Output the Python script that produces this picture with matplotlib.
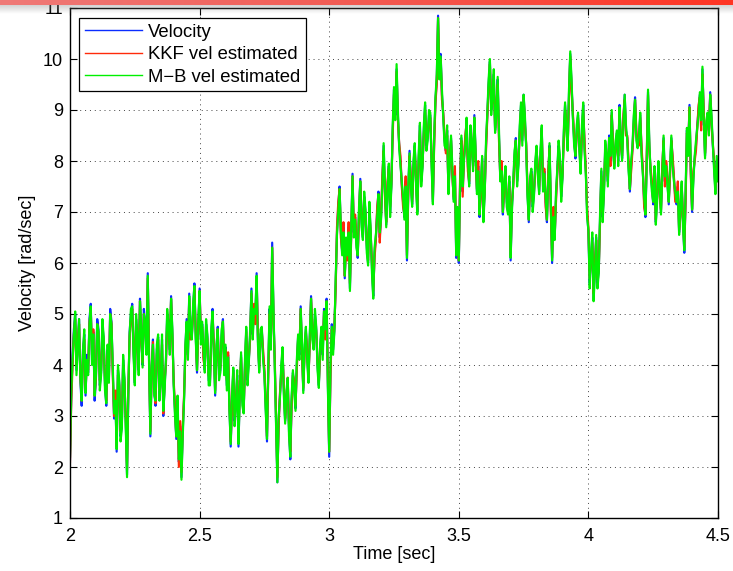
import numpy as np
import matplotlib
matplotlib.use("Agg")
import matplotlib.pyplot as plt
from matplotlib.colors import LinearSegmentedColormap

plt.rcParams['font.family'] = ['Liberation Sans', 'DejaVu Sans']

# samples every 5 ms, 2.000 .. 4.500 s
# "*_on" lists hold the values on the 10 ms marks, "*_mid" the ones in between
t_start = 2.0
dt = 0.005

velocity_on = [
    2.15, 4.2, 5.0, 4.4, 3.7, 4.3, 3.4, 3.85, 5.2, 4.65,
    3.7, 4.7, 3.85, 4.5, 3.2, 3.7, 4.85, 2.95, 2.3, 3.65,
    2.8, 3.7, 1.85, 4.65, 5.2, 3.65, 4.5, 5.3, 4.0, 4.8,
    5.8, 2.6, 4.5, 3.2, 4.55, 3.7, 3.0, 4.05, 4.85, 5.35,
    3.65, 2.55, 2.1, 1.8, 3.35, 4.9, 5.4, 4.55, 5.6, 3.85,
    5.5, 4.8, 3.9, 4.55, 3.65, 5.1, 3.4, 4.75, 3.9, 4.9,
    4.35, 4.2, 2.4, 3.9, 3.25, 2.4, 4.2, 3.1, 4.7, 4.1,
    5.5, 5.15, 5.8, 3.9, 4.7, 3.85, 2.5, 5.1, 6.4, 4.05,
    1.7, 3.4, 4.3, 2.9, 3.7, 2.15, 3.85, 3.15, 4.55, 5.15,
    3.5, 4.7, 3.7, 5.35, 4.35, 4.7, 3.6, 4.7, 5.1, 5.3,
    2.2, 4.8, 4.7, 6.6, 7.5, 6.2, 5.7, 6.1, 5.5, 7.75,
    6.9, 6.1, 7.65, 6.5, 7.0, 6.0, 6.6, 5.35, 6.5, 7.4,
    6.9, 8.3, 6.75, 7.9, 7.55, 9.4, 9.8, 8.3, 7.55, 6.9,
    6.05, 8.2, 7.15, 8.3, 7.0, 8.7, 7.9, 9.1, 8.45, 8.9,
    7.2, 9.2, 10.85, 10.1, 8.9, 8.2, 7.4, 8.45, 7.25, 6.1,
    6.0, 8.45, 8.05, 8.8, 7.55, 8.3, 8.9, 7.4, 6.9, 8.05,
    7.4, 8.9, 9.95, 9.2, 8.6, 9.6, 7.65, 6.95, 7.85, 7.0,
    6.05, 7.55, 8.45, 7.95, 9.1, 9.3, 8.3, 6.8, 7.8, 7.35,
    8.25, 7.4, 8.65, 7.8, 6.8, 8.3, 6.0, 6.5, 7.8, 8.05,
    7.7, 9.1, 8.25, 10.1, 8.9, 8.05, 8.9, 7.8, 9.1, 7.8,
    6.6, 6.1, 5.3, 6.5, 5.85, 7.8, 7.4, 8.1, 8.5, 8.95,
    7.9, 8.55, 9.1, 8.05, 9.3, 8.45, 7.4, 8.25, 9.25, 8.3,
    8.9, 7.8, 6.9, 9.35, 7.8, 7.15, 6.8, 7.95, 7.0, 8.45,
    7.95, 7.15, 8.45, 7.65, 7.15, 6.6, 7.55, 6.2, 8.6, 9.1,
    7.0, 8.05, 8.7, 9.3, 9.8, 8.1, 8.9, 9.35, 8.3, 7.4,
    7.65,
]
velocity_mid = [
    3.4, 4.7, 3.9, 4.9, 3.2, 4.6, 4.2, 4.9, 4.1, 3.3,
    4.9, 3.6, 4.8, 3.6, 4.3, 5.1, 3.9, 3.4, 3.9, 2.6,
    4.1, 2.9, 3.4, 5.0, 4.3, 4.9, 3.9, 4.6, 5.1, 4.3,
    4.1, 3.9, 3.5, 4.3, 3.4, 4.5, 3.6, 5.0, 4.3, 4.6,
    3.1, 3.3, 2.8, 2.7, 4.3, 4.2, 4.6, 5.1, 4.6, 4.8,
    4.5, 4.2, 4.8, 3.7, 4.6, 4.3, 4.3, 3.8, 4.6, 3.9,
    3.6, 3.2, 3.3, 2.9, 3.8, 3.5, 3.3, 4.0, 3.7, 4.6,
    4.6, 4.9, 4.5, 4.6, 4.2, 3.2, 3.9, 4.4, 5.0, 2.9,
    2.9, 3.9, 3.5, 3.4, 2.7, 3.3, 3.6, 4.0, 4.2, 4.3,
    4.3, 4.2, 4.5, 4.6, 5.0, 4.0, 4.3, 4.2, 4.6, 3.6,
    3.9, 4.3, 5.6, 7.1, 6.6, 6.7, 6.4, 6.7, 6.6, 6.6,
    6.4, 7.0, 6.8, 7.3, 6.3, 7.1, 5.9, 6.2, 7.0, 6.5,
    7.6, 7.4, 7.5, 7.0, 8.6, 8.9, 8.9, 8.0, 7.2, 7.6,
    7.4, 7.6, 7.9, 7.6, 8.0, 7.6, 8.6, 8.3, 8.9, 8.0,
    8.4, 9.6, 9.7, 9.3, 8.4, 8.6, 8.0, 7.8, 7.8, 7.0,
    7.6, 7.4, 8.4, 7.9, 8.6, 7.9, 8.1, 7.9, 7.4, 6.9,
    8.3, 9.5, 9.0, 9.7, 9.0, 8.5, 7.9, 7.5, 7.2, 7.6,
    7.1, 8.1, 7.6, 8.6, 8.4, 8.8, 7.4, 7.6, 7.1, 7.9,
    7.8, 8.1, 7.5, 7.2, 7.7, 7.1, 7.0, 7.3, 8.3, 7.3,
    8.5, 8.7, 9.3, 9.5, 8.4, 8.6, 8.3, 8.6, 8.3, 7.0,
    5.6, 6.5, 5.9, 5.6, 6.9, 6.9, 8.3, 7.6, 8.0, 8.3,
    8.3, 8.0, 8.4, 8.8, 8.6, 7.9, 7.9, 8.8, 8.5, 8.4,
    8.2, 7.2, 8.0, 8.3, 7.5, 7.8, 7.3, 7.4, 7.8, 7.6,
    7.6, 7.8, 8.0, 7.3, 7.5, 7.0, 6.8, 7.3, 8.2, 7.8,
    7.7, 8.3, 9.0, 8.7, 8.9, 8.7, 8.6, 8.8, 7.9, 8.0,
]

kkf_on = [
    2.1, 4.0, 4.9, 4.45, 3.8, 4.2, 3.5, 3.9, 5.1, 4.7,
    3.75, 4.6, 3.9, 4.45, 3.3, 3.75, 4.8, 3.0, 2.4, 3.6,
    2.85, 3.65, 1.95, 4.55, 5.1, 3.7, 4.45, 5.25, 4.05, 4.75,
    5.7, 2.7, 4.45, 3.25, 4.5, 3.75, 3.05, 4.0, 4.8, 5.3,
    3.7, 2.6, 2.0, 1.9, 3.4, 4.8, 5.3, 4.6, 5.5, 3.9,
    5.45, 4.75, 3.95, 4.5, 3.7, 5.0, 3.5, 4.7, 3.95, 4.85,
    4.3, 4.25, 2.5, 3.85, 3.3, 2.5, 4.15, 3.15, 4.65, 4.15,
    5.4, 5.2, 5.7, 3.95, 4.65, 3.9, 2.6, 5.0, 6.3, 4.1,
    1.8, 3.45, 4.25, 2.95, 3.75, 2.3, 3.8, 3.2, 4.5, 5.1,
    3.55, 4.65, 3.75, 5.3, 4.4, 4.65, 3.65, 4.65, 5.05, 5.25,
    2.3, 4.7, 4.75, 6.7, 7.45, 6.25, 5.75, 6.05, 5.6, 7.7,
    6.95, 6.15, 7.6, 6.55, 6.95, 6.05, 6.55, 5.45, 6.45, 7.35,
    6.95, 8.2, 6.8, 7.85, 7.6, 9.3, 9.75, 8.35, 7.5, 6.95,
    6.15, 8.1, 7.2, 8.25, 7.05, 8.6, 7.95, 9.0, 8.5, 8.85,
    7.25, 9.15, 10.8, 10.0, 8.95, 8.15, 7.45, 8.4, 7.3, 6.2,
    6.05, 8.4, 8.1, 8.75, 7.6, 8.25, 8.85, 7.45, 6.95, 8.0,
    7.45, 8.85, 9.9, 9.15, 8.65, 9.5, 7.7, 7.0, 7.8, 7.05,
    6.15, 7.5, 8.4, 8.0, 9.0, 9.25, 8.35, 6.85, 7.75, 7.4,
    8.2, 7.45, 8.6, 7.85, 6.85, 8.25, 6.1, 6.55, 7.75, 8.0,
    7.75, 9.0, 8.3, 10.05, 8.95, 8.1, 8.85, 7.85, 9.0, 7.85,
    6.7, 6.05, 5.4, 6.45, 5.9, 7.7, 7.45, 8.05, 8.45, 8.9,
    7.95, 8.5, 9.05, 8.1, 9.2, 8.5, 7.45, 8.2, 9.2, 8.35,
    8.85, 7.85, 6.95, 9.3, 7.85, 7.2, 6.85, 7.9, 7.05, 8.4,
    8.0, 7.2, 8.4, 7.7, 7.2, 6.65, 7.5, 6.3, 8.55, 9.05,
    7.05, 8.0, 8.65, 9.25, 9.7, 8.15, 8.85, 9.3, 8.35, 7.45,
    7.7,
]
kkf_mid = [
    3.3, 4.6, 4.0, 4.8, 3.3, 4.5, 4.1, 4.8, 4.2, 3.4,
    4.8, 3.7, 4.7, 3.7, 4.2, 5.0, 3.8, 3.5, 3.8, 2.7,
    4.0, 3.0, 3.5, 4.9, 4.4, 4.8, 4.0, 4.5, 5.0, 4.4,
    4.2, 3.8, 3.6, 4.2, 3.5, 4.4, 3.7, 4.9, 4.4, 4.5,
    3.2, 3.2, 2.9, 2.8, 4.2, 4.3, 4.5, 5.0, 4.7, 4.7,
    4.6, 4.1, 4.7, 3.8, 4.5, 4.4, 4.2, 3.9, 4.5, 4.0,
    3.7, 3.3, 3.2, 3.0, 3.7, 3.6, 3.4, 3.9, 3.8, 4.5,
    4.7, 4.8, 4.6, 4.5, 4.3, 3.3, 3.8, 4.5, 4.9, 3.0,
    2.8, 3.8, 3.6, 3.3, 2.8, 3.2, 3.7, 3.9, 4.3, 4.2,
    4.2, 4.3, 4.4, 4.7, 4.9, 4.1, 4.2, 4.3, 4.5, 3.7,
    3.8, 4.4, 5.5, 7.2, 6.5, 6.8, 6.3, 6.8, 6.5, 6.7,
    6.5, 6.9, 6.9, 7.2, 6.4, 7.0, 6.0, 6.1, 7.1, 6.4,
    7.7, 7.3, 7.6, 7.1, 8.5, 9.0, 8.8, 8.1, 7.1, 7.7,
    7.3, 7.7, 7.8, 7.7, 7.9, 7.7, 8.5, 8.4, 8.8, 8.1,
    8.3, 9.5, 9.8, 9.2, 8.5, 8.5, 8.1, 7.7, 7.9, 6.9,
    7.7, 7.3, 8.5, 7.8, 8.5, 8.0, 8.0, 8.0, 7.3, 7.0,
    8.2, 9.4, 9.1, 9.6, 9.1, 8.4, 8.0, 7.4, 7.3, 7.5,
    7.2, 8.0, 7.7, 8.5, 8.5, 8.7, 7.5, 7.5, 7.2, 7.8,
    7.9, 8.0, 7.6, 7.1, 7.8, 7.0, 7.1, 7.2, 8.2, 7.4,
    8.4, 8.8, 9.2, 9.4, 8.5, 8.5, 8.4, 8.5, 8.4, 7.1,
    5.7, 6.4, 6.0, 5.7, 6.8, 7.0, 8.2, 7.7, 7.9, 8.4,
    8.2, 8.1, 8.3, 8.9, 8.5, 8.0, 7.8, 8.7, 8.6, 8.3,
    8.3, 7.1, 8.1, 8.2, 7.6, 7.7, 7.4, 7.3, 7.9, 7.5,
    7.7, 7.7, 8.1, 7.2, 7.6, 6.9, 6.9, 7.2, 8.3, 7.7,
    7.8, 8.2, 9.1, 8.6, 9.0, 8.6, 8.7, 8.7, 8.0, 7.9,
]

mb_on = [
    2.2, 4.1, 5.05, 4.35, 3.75, 4.25, 3.45, 3.8, 5.15, 4.6,
    3.8, 4.65, 3.8, 4.55, 3.25, 3.65, 4.8, 3.05, 2.35, 3.7,
    2.75, 3.75, 1.8, 4.6, 5.15, 3.6, 4.55, 5.25, 3.95, 4.85,
    5.75, 2.65, 4.4, 3.3, 4.6, 3.65, 3.1, 4.1, 4.8, 5.3,
    3.6, 2.6, 2.15, 1.75, 3.3, 4.85, 5.35, 4.5, 5.55, 3.9,
    5.45, 4.85, 3.85, 4.6, 3.6, 5.05, 3.45, 4.7, 3.85, 4.85,
    4.4, 4.15, 2.45, 3.95, 3.2, 2.45, 4.25, 3.05, 4.75, 4.05,
    5.45, 5.1, 5.75, 3.85, 4.75, 3.8, 2.55, 5.15, 6.3, 4.0,
    1.7, 3.35, 4.35, 2.85, 3.75, 2.2, 3.9, 3.1, 4.6, 5.1,
    3.45, 4.75, 3.65, 5.3, 4.3, 4.75, 3.55, 4.75, 5.05, 5.25,
    2.3, 4.75, 4.65, 6.55, 7.45, 6.15, 5.75, 6.15, 5.45, 7.7,
    6.85, 6.15, 7.6, 6.45, 7.05, 5.95, 6.65, 5.3, 6.55, 7.35,
    6.85, 8.35, 6.7, 7.95, 7.5, 9.45, 9.9, 8.25, 7.6, 6.85,
    6.1, 8.15, 7.1, 8.35, 6.95, 8.75, 7.85, 9.15, 8.4, 8.95,
    7.15, 9.25, 10.8, 10.05, 8.85, 8.25, 7.35, 8.5, 7.2, 6.15,
    6.05, 8.5, 8.0, 8.85, 7.5, 8.35, 8.85, 7.35, 6.95, 8.1,
    7.35, 8.95, 10.0, 9.25, 8.55, 9.65, 7.6, 7.0, 7.9, 6.95,
    6.1, 7.6, 8.4, 7.9, 9.15, 9.3, 8.25, 6.85, 7.85, 7.3,
    8.3, 7.35, 8.7, 7.75, 6.85, 8.35, 6.05, 6.45, 7.85, 8.1,
    7.65, 9.15, 8.2, 10.15, 8.85, 8.1, 8.95, 7.75, 9.15, 7.75,
    6.65, 6.15, 5.25, 6.55, 5.8, 7.85, 7.35, 8.15, 8.45, 9.0,
    7.85, 8.6, 9.05, 8.0, 9.3, 8.4, 7.45, 8.3, 9.2, 8.25,
    8.95, 7.75, 6.95, 9.4, 7.75, 7.2, 6.75, 8.0, 6.95, 8.5,
    7.9, 7.2, 8.5, 7.6, 7.2, 6.55, 7.6, 6.25, 8.65, 9.05,
    7.05, 8.1, 8.65, 9.35, 9.85, 8.05, 8.95, 9.3, 8.35, 7.35,
    7.6,
]
mb_mid = [
    3.5, 4.6, 3.8, 4.9, 3.3, 4.7, 4.1, 4.8, 4.0, 3.4,
    4.8, 3.5, 4.9, 3.5, 4.4, 5.0, 4.0, 3.3, 4.0, 2.5,
    4.2, 2.8, 3.5, 5.1, 4.2, 5.0, 3.8, 4.7, 5.0, 4.2,
    4.0, 4.0, 3.4, 4.4, 3.3, 4.6, 3.5, 5.1, 4.2, 4.7,
    3.0, 3.4, 2.7, 2.6, 4.4, 4.1, 4.7, 5.2, 4.5, 4.9,
    4.4, 4.3, 4.9, 3.6, 4.7, 4.2, 4.4, 3.7, 4.7, 3.8,
    3.5, 3.1, 3.4, 2.8, 3.9, 3.4, 3.2, 4.1, 3.6, 4.7,
    4.5, 5.0, 4.4, 4.7, 4.1, 3.1, 4.0, 4.3, 5.1, 2.8,
    3.0, 4.0, 3.4, 3.5, 2.6, 3.4, 3.5, 4.1, 4.1, 4.4,
    4.4, 4.1, 4.6, 4.5, 5.1, 3.9, 4.4, 4.1, 4.7, 3.5,
    4.0, 4.2, 5.7, 7.0, 6.7, 6.6, 6.5, 6.6, 6.7, 6.5,
    6.3, 7.1, 6.7, 7.4, 6.2, 7.2, 5.8, 6.3, 6.9, 6.6,
    7.5, 7.5, 7.4, 6.9, 8.7, 8.8, 9.0, 7.9, 7.3, 7.5,
    7.5, 7.5, 8.0, 7.5, 8.1, 7.5, 8.7, 8.2, 9.0, 7.9,
    8.5, 9.7, 9.6, 9.4, 8.3, 8.7, 7.9, 7.9, 7.7, 7.1,
    7.5, 7.5, 8.3, 8.0, 8.7, 7.8, 8.2, 7.8, 7.5, 6.8,
    8.4, 9.6, 8.9, 9.8, 8.9, 8.6, 7.8, 7.6, 7.1, 7.7,
    7.0, 8.2, 7.5, 8.7, 8.3, 8.9, 7.3, 7.7, 7.0, 8.0,
    7.7, 8.2, 7.4, 7.3, 7.6, 7.2, 6.9, 7.4, 8.4, 7.2,
    8.6, 8.6, 9.4, 9.6, 8.3, 8.7, 8.2, 8.7, 8.2, 6.9,
    5.5, 6.6, 5.8, 5.5, 7.0, 6.8, 8.4, 7.5, 8.1, 8.2,
    8.4, 7.9, 8.5, 8.7, 8.7, 7.8, 8.0, 8.9, 8.4, 8.5,
    8.1, 7.3, 7.9, 8.4, 7.4, 7.9, 7.2, 7.5, 7.7, 7.7,
    7.5, 7.9, 7.9, 7.4, 7.4, 7.1, 6.7, 7.4, 8.1, 7.9,
    7.6, 8.4, 8.9, 8.8, 8.8, 8.8, 8.5, 8.9, 7.8, 8.1,
]

series_names = ["Velocity", "KKF vel estimated", "M\u2212B vel estimated"]
series_colors = ["#0a2cff", "#ff2a0a", "#00f000"]
x_ticks = [2, 2.5, 3, 3.5, 4, 4.5]
x_tick_labels = ["2", "2.5", "3", "3.5", "4", "4.5"]
y_ticks = list(range(1, 12))


def merge(on, mid):
    out = np.empty(len(on) + len(mid))
    out[0::2] = on
    out[1::2] = mid
    return out


series = [merge(velocity_on, velocity_mid),
          merge(kkf_on, kkf_mid),
          merge(mb_on, mb_mid)]
time = t_start + dt * np.arange(len(series[0]))

fig = plt.figure(figsize=(7.33, 5.71), dpi=100)
ax = fig.add_axes([70 / 733, 53 / 571, 648 / 733, 510 / 571])

for vals, name, col in zip(series, series_names, series_colors):
    ax.plot(time, vals, color=col, lw=1.55, label=name)

ax.set_xlim(2, 4.5)
ax.set_ylim(1, 11)
ax.set_xticks(x_ticks)
ax.set_xticklabels(x_tick_labels)
ax.set_yticks(y_ticks)
ax.tick_params(direction="in", length=5, width=0.8, top=True, right=True,
               labelsize=13)
ax.tick_params(axis="x", pad=7)
ax.tick_params(axis="y", pad=5)
ax.grid(True, color="#444444", linestyle=(0, (1, 4)), linewidth=0.7)
for sp in ax.spines.values():
    sp.set_linewidth(1.0)

ax.set_xlabel("Time [sec]", fontsize=13, labelpad=1)
ax.set_ylabel("Velocity [rad/sec]", fontsize=13, labelpad=5)

leg = ax.legend(loc="upper left", bbox_to_anchor=(0.0144, 0.980), fontsize=13.3,
                handlelength=3.1, handletextpad=0.33, borderpad=0.3,
                labelspacing=0.3, fancybox=False, framealpha=1,
                borderaxespad=0)
leg.get_frame().set_edgecolor("black")
leg.get_frame().set_linewidth(0.9)
for line in leg.get_lines():
    line.set_linewidth(1.0)

# slide header bar across the top
bar = fig.add_axes([0, 1 - 5 / 571, 1, 5 / 571])
cmap = LinearSegmentedColormap.from_list("hdr", ["#ef7a78", "#f25a52", "#ff3524"])
bar.imshow(np.linspace(0, 1, 256).reshape(1, -1), aspect="auto", cmap=cmap)
bar.axis("off")

shadow = fig.add_axes([0, 1 - 14 / 571, 1, 9 / 571])
shade = np.zeros((20, 2, 4))
shade[..., :3] = 0.5
shade[..., 3] = np.linspace(0.35, 0, 20)[:, None]
shadow.imshow(shade, aspect="auto")
shadow.axis("off")

fig.savefig("out.png", dpi=100)
